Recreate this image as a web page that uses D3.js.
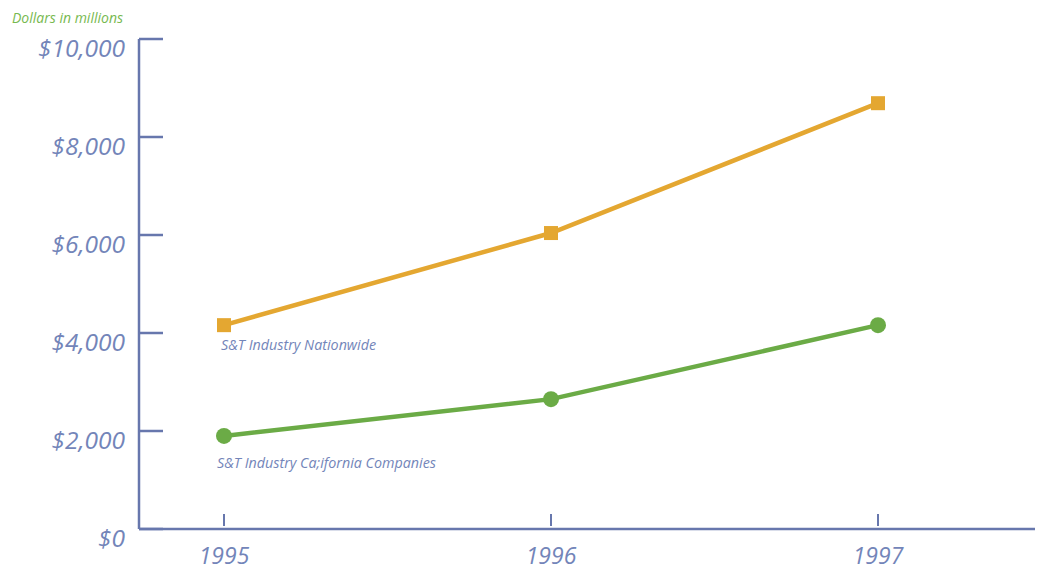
<!DOCTYPE html>
<html>
<head>
<meta charset="utf-8">
<script src="https://cdn.jsdelivr.net/npm/d3@7"></script>
<style>
  html, body { margin: 0; padding: 0; background: #fff; }
  svg { display: block; }
  text { font-family: "Open Sans", Lato, sans-serif; font-style: italic; font-weight: 400; }
</style>
</head>
<body>
<svg id="chart" width="1038" height="567"></svg>
<script>
// Revenue, dollars in millions
const years = [1995, 1996, 1997];
const nationwide = [4160, 6040, 8690];
const california = [1900, 2650, 4160];
const yTicks = [0, 2000, 4000, 6000, 8000, 10000];
const seriesLabels = ["S&T Industry Nationwide", "S&T Industry Ca;ifornia Companies"];
const unitLabel = "Dollars in millions";

const axisColor = "#6777ad";
const textColor = "#7385b9";
const orange = "#e4a731";
const green = "#6bab46";

const svg = d3.select("#chart");

const x = d3.scaleLinear().domain([1995, 1997]).range([224, 878]);
const y = d3.scaleLinear().domain([0, 10000]).range([529, 39]);

const axisLeft = 139, axisRight = 1035;

// y axis: spine with inward ticks
svg.append("line")
  .attr("x1", axisLeft).attr("x2", axisLeft)
  .attr("y1", y(10000)).attr("y2", y(0))
  .attr("stroke", axisColor).attr("stroke-width", 2.5);

svg.selectAll(".ytick").data(yTicks).join("line")
  .attr("x1", axisLeft).attr("x2", axisLeft + 24)
  .attr("y1", d => y(d)).attr("y2", d => y(d))
  .attr("stroke", axisColor).attr("stroke-width", 2.5);

// tick values sit just below their tick marks
svg.selectAll(".ylab").data(yTicks).join("text")
  .attr("x", 125).attr("y", d => y(d) + 18)
  .attr("text-anchor", "end")
  .attr("font-size", 24.5)
  .attr("fill", textColor)
  .text(d => "$" + d3.format(",")(d));

// x axis
svg.append("line")
  .attr("x1", axisLeft).attr("x2", axisRight)
  .attr("y1", y(0)).attr("y2", y(0))
  .attr("stroke", axisColor).attr("stroke-width", 2.5);

svg.selectAll(".xtick").data(years).join("line")
  .attr("x1", d => x(d)).attr("x2", d => x(d))
  .attr("y1", y(0) - 15).attr("y2", y(0) - 3)
  .attr("stroke", axisColor).attr("stroke-width", 2);

svg.selectAll(".xlab").data(years).join("text")
  .attr("x", d => x(d)).attr("y", 564)
  .attr("text-anchor", "middle")
  .attr("font-size", 23)
  .attr("fill", textColor)
  .text(d => d);

// unit label
svg.append("text")
  .attr("x", 12).attr("y", 23)
  .attr("font-size", 14)
  .attr("fill", "#77b94f")
  .text(unitLabel);

const line = d3.line().x(d => x(d[0])).y(d => y(d[1]));

// Nationwide series
const natData = years.map((yr, i) => [yr, nationwide[i]]);
svg.append("path").datum(natData)
  .attr("d", line).attr("fill", "none")
  .attr("stroke", orange).attr("stroke-width", 4.5);
svg.selectAll(".sq").data(natData).join("rect")
  .attr("x", d => x(d[0]) - 7).attr("y", d => y(d[1]) - 7)
  .attr("width", 14).attr("height", 14)
  .attr("fill", orange);

// California series
const calData = years.map((yr, i) => [yr, california[i]]);
svg.append("path").datum(calData)
  .attr("d", line).attr("fill", "none")
  .attr("stroke", green).attr("stroke-width", 4.5);
svg.selectAll(".dot").data(calData).join("circle")
  .attr("cx", d => x(d[0])).attr("cy", d => y(d[1]))
  .attr("r", 8)
  .attr("fill", green);

// series labels under the first point
svg.append("text")
  .attr("x", x(1995) - 3).attr("y", y(nationwide[0]) + 25)
  .attr("font-size", 14.3).attr("fill", textColor)
  .text(seriesLabels[0]);
svg.append("text")
  .attr("x", x(1995) - 7).attr("y", y(california[0]) + 32)
  .attr("font-size", 14.3).attr("fill", textColor)
  .text(seriesLabels[1]);
</script>
</body>
</html>
